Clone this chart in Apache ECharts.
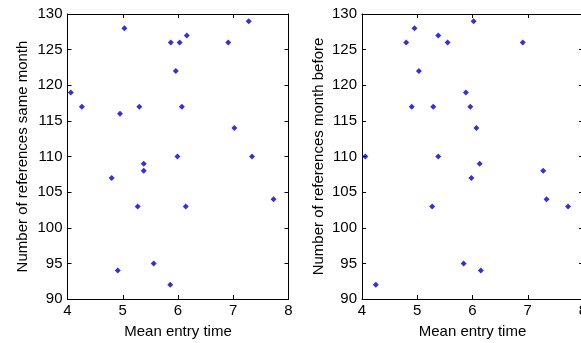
<!DOCTYPE html>
<html><head><meta charset="utf-8">
<script src="https://cdn.jsdelivr.net/npm/echarts@6/dist/echarts.min.js"></script>
<style>html,body{margin:0;padding:0;background:#fff;overflow:hidden}#c{width:581px;height:343px}</style>
</head><body><div id="c"></div>
<script>
// Left panel: mean entry time vs references same month
const sameX = [4.06,4.26,5.03,4.95,5.30,5.38,5.38,5.87,6.03,6.16,5.96,6.07,5.99,6.91,7.28,7.02,7.34,4.80,5.27,6.14,7.73,4.91,5.56,5.86];
const sameY = [119,117,128,116,117,109,108,126,126,127,122,117,110,126,129,114,110,107,103,103,104,94,95,92];
// Right panel: mean entry time vs references month before
const beforeX = [4.06,4.80,4.95,5.03,4.90,5.29,5.38,5.55,5.38,6.02,5.88,5.96,6.07,6.13,6.91,7.28,5.98,5.27,7.34,7.73,5.84,6.15,4.25];
const beforeY = [110,126,128,122,117,117,127,126,110,129,119,117,114,109,126,108,107,103,104,103,95,94,92];
const xTicks = [4,5,6,7,8];
const yTicks = [90,95,100,105,110,115,120,125,130];
const xName = 'Mean entry time';
const yNames = ['Number of references same month','Number of references month before'];

const font = 'Liberation Sans, Arial, sans-serif';
const pair = (xs, ys) => xs.map((x, i) => [x, ys[i]]);
const grids = [
  {left: 67.5, top: 14, width: 221, height: 285, outerBoundsMode: 'none', containLabel: false},
  {left: 362, top: 14, width: 221, height: 285, outerBoundsMode: 'none', containLabel: false}
];
const xAxes = [], yAxes = [], series = [];
const datas = [pair(sameX, sameY), pair(beforeX, beforeY)];
const yGaps = [37, 36];
grids.forEach((g, gi) => {
  const xb = {
    gridIndex: gi, type: 'value', min: xTicks[0], max: xTicks[xTicks.length-1], interval: 1,
    axisLine: {show: true, lineStyle: {color: '#000', width: 1}},
    axisTick: {show: true, inside: true, length: 4, lineStyle: {color: '#000'}},
    axisLabel: {show: true, color: '#000', fontFamily: font, fontSize: 15, margin: 4},
    splitLine: {show: false},
    name: xName, nameLocation: 'middle', nameGap: 25,
    nameTextStyle: {color: '#000', fontFamily: font, fontSize: 15}
  };
  const xt = {
    gridIndex: gi, type: 'value', position: 'top', min: xTicks[0], max: xTicks[xTicks.length-1], interval: 1,
    axisLine: {show: true, lineStyle: {color: '#000', width: 1}},
    axisTick: {show: true, inside: true, length: 4, lineStyle: {color: '#000'}},
    axisLabel: {show: false}, splitLine: {show: false}
  };
  const yl = {
    gridIndex: gi, type: 'value', min: yTicks[0], max: yTicks[yTicks.length-1], interval: 5,
    axisLine: {show: true, lineStyle: {color: '#000', width: 1}},
    axisTick: {show: true, inside: true, length: 4, lineStyle: {color: '#000'}},
    axisLabel: {show: true, color: '#000', fontFamily: font, fontSize: 15, margin: 5},
    splitLine: {show: false},
    name: yNames[gi], nameLocation: 'middle', nameRotate: 90, nameGap: yGaps[gi],
    nameTextStyle: {color: '#000', fontFamily: font, fontSize: 15}
  };
  const yr = {
    gridIndex: gi, type: 'value', position: 'right', min: yTicks[0], max: yTicks[yTicks.length-1], interval: 5,
    axisLine: {show: true, lineStyle: {color: '#000', width: 1}},
    axisTick: {show: true, inside: true, length: 4, lineStyle: {color: '#000'}},
    axisLabel: {show: false}, splitLine: {show: false}
  };
  const xi = xAxes.length; xAxes.push(xb, xt);
  const yi = yAxes.length; yAxes.push(yl, yr);
  series.push({
    type: 'scatter', xAxisIndex: xi, yAxisIndex: yi, data: datas[gi],
    symbol: 'diamond', symbolSize: 6, itemStyle: {color: '#0000c0'}, animation: false
  });
});
const chart = echarts.init(document.getElementById('c'), null, {renderer: 'canvas'});
chart.setOption({
  animation: false, backgroundColor: '#fff',
  grid: grids, xAxis: xAxes, yAxis: yAxes, series: series
});
</script></body></html>
